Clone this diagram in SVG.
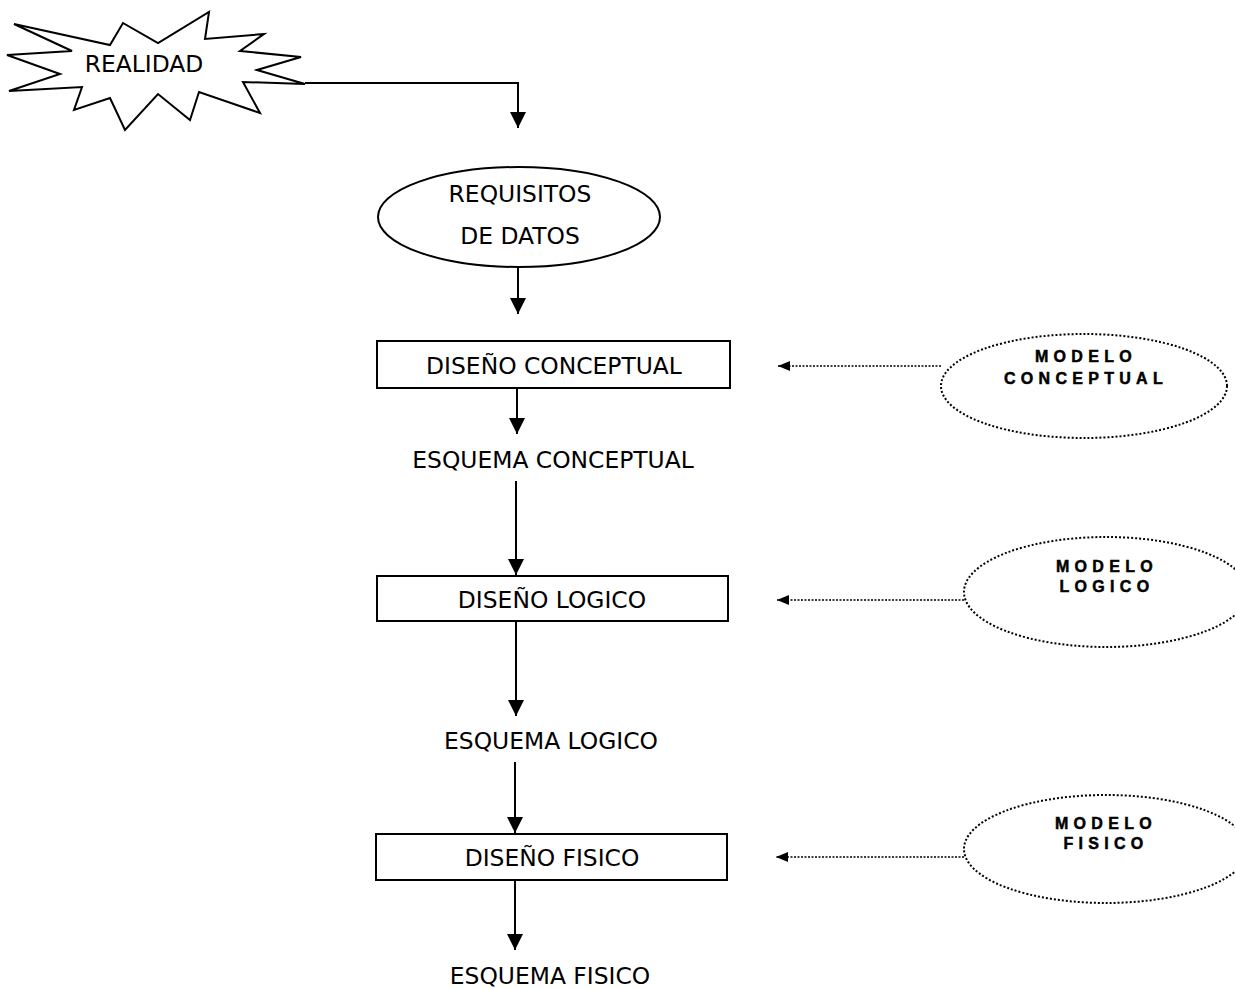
<svg xmlns="http://www.w3.org/2000/svg" width="1235" height="989" viewBox="0 0 1235 989">
<style>
.bg{fill:#fff}
.shape{fill:#fff;stroke:#000;stroke-width:2}
.dot{fill:#fff;stroke:#000;stroke-width:2;stroke-dasharray:2 2}
.t{font-family:"DejaVu Sans","Verdana",sans-serif;font-size:23.4px;fill:#000;text-anchor:middle}
.m{font-family:"Liberation Sans",Arial,sans-serif;font-weight:bold;font-size:16px;letter-spacing:5.3px;fill:#000;stroke:#000;stroke-width:0.5;text-anchor:middle}
.c{fill:none;stroke:#000;stroke-width:2}
.cd{fill:none;stroke:#000;stroke-width:1.5;stroke-dasharray:2 1.5}
</style>
<defs>
<marker id="ah" markerUnits="userSpaceOnUse" markerWidth="16" markerHeight="16" refX="16" refY="8" orient="auto"><path d="M0,0 L16,8 L0,16 z" fill="#000"/></marker>
<marker id="ahs" markerUnits="userSpaceOnUse" markerWidth="12" markerHeight="10" refX="12" refY="5" orient="auto"><path d="M0,0 L12,5 L0,10 z" fill="#000"/></marker>
</defs>
<rect class="bg" x="0" y="0" width="1235" height="989"/>
<g id="connectors">
<path class="c" d="M305,83 H518 V128" marker-end="url(#ah)"/>
<path class="c" d="M518,267 V314" marker-end="url(#ah)"/>
<path class="c" d="M517,388 V434" marker-end="url(#ah)"/>
<path class="c" d="M516,481 V575" marker-end="url(#ah)"/>
<path class="c" d="M516,621 V716" marker-end="url(#ah)"/>
<path class="c" d="M515,762 V833" marker-end="url(#ah)"/>
<path class="c" d="M515,880 V950" marker-end="url(#ah)"/>
<path class="cd" d="M941,366 H778" marker-end="url(#ahs)"/>
<path class="cd" d="M964,600 H777" marker-end="url(#ahs)"/>
<path class="cd" d="M964,857 H776" marker-end="url(#ahs)"/>
</g>
<g id="realidad">
<polygon class="shape" points="14,24 110,45 123,23 158,43 209,12 205,39 264,34 240,51 301,57 257,70 305,84 243,82 260,113 199,92 190,120 158,94 125,130 110,98 74,110 82,87 9,91 60,74 7,55 72,51"/>
<text class="t" x="144" y="72" font-size="21">REALIDAD</text>
</g>
<g id="requisitos">
<ellipse class="shape" cx="519" cy="217" rx="141" ry="50"/>
<text class="t" x="520" y="202">REQUISITOS</text>
<text class="t" x="520" y="244">DE DATOS</text>
</g>
<g id="diseno-conceptual">
<rect class="shape" x="377" y="341" width="353" height="47"/>
<text class="t" x="554" y="374">DISEÑO CONCEPTUAL</text>
</g>
<g id="esquema-conceptual">
<text class="t" x="553" y="468">ESQUEMA CONCEPTUAL</text>
</g>
<g id="diseno-logico">
<rect class="shape" x="377" y="576" width="351" height="45"/>
<text class="t" x="552" y="608">DISEÑO LOGICO</text>
</g>
<g id="esquema-logico">
<text class="t" x="551" y="749">ESQUEMA LOGICO</text>
</g>
<g id="diseno-fisico">
<rect class="shape" x="376" y="834" width="351" height="46"/>
<text class="t" x="552" y="866">DISEÑO FISICO</text>
</g>
<g id="esquema-fisico">
<text class="t" x="550" y="984">ESQUEMA FISICO</text>
</g>
<g id="modelo-conceptual">
<ellipse class="dot" cx="1084" cy="386" rx="143" ry="52"/>
<text class="m" x="1086" y="362">MODELO</text>
<text class="m" x="1086" y="384">CONCEPTUAL</text>
</g>
<g id="modelo-logico">
<ellipse class="dot" cx="1106" cy="592" rx="142" ry="55"/>
<text class="m" x="1107" y="572">MODELO</text>
<text class="m" x="1107" y="592">LOGICO</text>
</g>
<g id="modelo-fisico">
<ellipse class="dot" cx="1106" cy="849" rx="142" ry="54"/>
<text class="m" x="1106" y="829">MODELO</text>
<text class="m" x="1106" y="849">FISICO</text>
</g>
</svg>
